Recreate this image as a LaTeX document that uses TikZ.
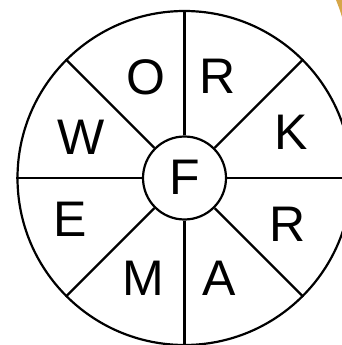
\documentclass[tikz,border=0pt]{standalone}
\usepackage{fontspec}
\setmainfont{Liberation Sans}
\definecolor{goldedge}{RGB}{214,166,72}
\begin{document}
\begin{tikzpicture}[x=1pt,y=-1pt,
  ring/.style={circle,draw=black,line width=2.2pt,inner sep=0pt},
  spoke/.style={draw=black,line width=2.2pt},
  letter/.style={inner sep=0pt,text height=35.8pt,text depth=0pt,
    font=\fontsize{50}{50}\selectfont,anchor=center}]
\useasboundingbox (0,0) rectangle (342,345);
\fill[goldedge] (336,0) .. controls (338,5) and (340,10) .. (342,17) -- (342,0) -- cycle;
\coordinate (c) at (184.5,178);
\node[ring,minimum size=334pt] (outer) at (c) {};
\node[ring,minimum size=83pt] (inner) at (c) {};
\foreach \a in {0,45,...,315}{
  \draw[spoke] (inner.\a) -- (outer.\a);
}
\node[letter] (lF) at (185,177) {F};
\node[letter] (lO) at (146,77) {O};
\node[letter] (lR) at (218,76) {R};
\node[letter] (lK) at (291,132) {K};
\node[letter] (lR2) at (287.5,223.5) {R};
\node[letter] (lA) at (219,278) {A};
\node[letter] (lM) at (143,278) {M};
\node[letter] (lE) at (70,219) {E};
\node[letter] (lW) at (81,137) {W};
\end{tikzpicture}
\end{document}
